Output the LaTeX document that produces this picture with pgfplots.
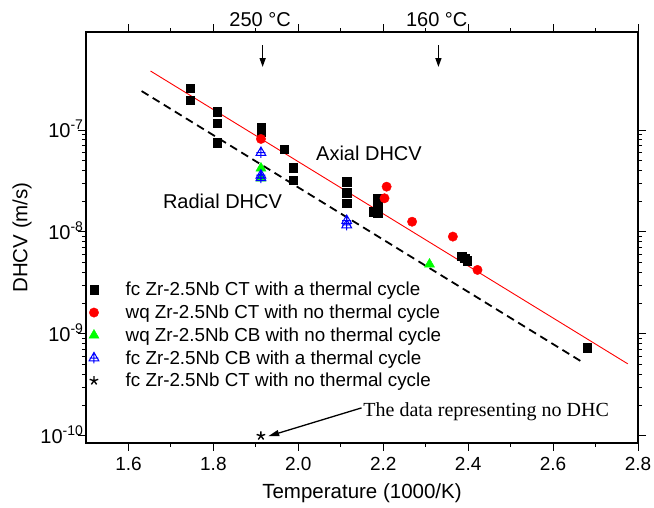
\documentclass[border=0pt]{standalone}
\usepackage{pgfplots}
\pgfplotsset{compat=1.18}
\usepackage{fontspec}
\setmainfont{Liberation Sans}
\newfontfamily\serifann{Liberation Serif}
\usetikzlibrary{arrows.meta}

% open triangle with a cross through it (Origin style)
\pgfdeclareplotmark{tricross}{%
  \pgfpathmoveto{\pgfqpoint{0pt}{\pgfplotmarksize}}%
  \pgfpathlineto{\pgfqpoint{-0.866\pgfplotmarksize}{-0.5\pgfplotmarksize}}%
  \pgfpathlineto{\pgfqpoint{0.866\pgfplotmarksize}{-0.5\pgfplotmarksize}}%
  \pgfpathclose
  \pgfpathmoveto{\pgfqpoint{0pt}{\pgfplotmarksize}}%
  \pgfpathlineto{\pgfqpoint{0pt}{-0.95\pgfplotmarksize}}%
  \pgfpathmoveto{\pgfqpoint{-0.8\pgfplotmarksize}{0pt}}%
  \pgfpathlineto{\pgfqpoint{0.8\pgfplotmarksize}{0pt}}%
  \pgfusepathqstroke}

\begin{document}
\begin{tikzpicture}
\path[use as bounding box] (0,0) rectangle (654pt,508pt);
\begin{axis}[
  at={(86pt,65pt)}, anchor=south west,
  scale only axis, width=552pt, height=411pt,
  xmin=1.5, xmax=2.8,
  ymode=log, ymin=8.5e-11, ymax=9.15e-7,
  xtick={1.6,1.8,2.0,2.2,2.4,2.6,2.8},
  xticklabels={1.6,1.8,2.0,2.2,2.4,2.6,2.8},
  minor x tick num=1,
  ytick={1e-10,1e-9,1e-8,1e-7},
  yticklabels={10\textsuperscript{-10},10\textsuperscript{-9},10\textsuperscript{-8},10\textsuperscript{-7}},
  tick align=outside,
  major tick length=8pt, minor tick length=4pt,
  axis line style={line width=1.2pt},
  every tick/.style={black, line width=1pt},
  tick label style={font=\fontsize{19}{22}\selectfont},
  xticklabel style={yshift=-3pt},
  yticklabel style={font=\fontsize{20}{22}\selectfont, xshift=9pt, yshift=1pt},
  xlabel={Temperature (1000/K)}, ylabel={DHCV (m/s)},
  label style={font=\fontsize{20.5}{24}\selectfont},
  xlabel style={yshift=-6pt},
  ylabel style={yshift=2pt},
  clip=false,
  legend cell align=left,
  legend style={at={(rel axis cs:0.005,0.394)}, anchor=north west, draw=none, fill=none,
    font=\fontsize{18.8}{21}\selectfont, row sep=5.6pt, inner sep=0pt,
    nodes={inner xsep=1pt, inner ysep=1pt}},
  legend image code/.code={\draw[#1] plot coordinates {(0pt,0pt)}; \path (-4pt,0pt) (30pt,0pt);},
]
% fitted lines
\addplot[red, line width=0.9pt, forget plot] coordinates {(1.652,3.79e-7) (2.776,5.08e-10)};
\addplot[black, line width=1.8pt, dash pattern=on 8pt off 5pt, forget plot] coordinates {(1.631,2.41e-7) (2.673,5.16e-10)};
% fc Zr-2.5Nb CT with a thermal cycle
\addplot[only marks, mark=square*, mark size=4.2pt, black] coordinates {
  (1.745,2.56e-7) (1.745,1.97e-7)
  (1.809,1.51e-7) (1.809,1.16e-7) (1.809,7.5e-8)
  (1.912,1.07e-7) (1.912,1.0e-7) (1.912,9.5e-8)
  (1.967,6.47e-8) (1.988,4.26e-8) (1.988,3.23e-8)
  (2.114,3.11e-8) (2.114,2.43e-8) (2.114,1.91e-8)
  (2.187,2.14e-8) (2.187,1.84e-8) (2.187,1.52e-8) (2.178,1.58e-8)
  (2.385,5.8e-9) (2.392,5.5e-9) (2.398,5.2e-9)
  (2.681,7.35e-10)};
\addlegendentry{fc Zr-2.5Nb CT with a thermal cycle}
% wq Zr-2.5Nb CT with no thermal cycle
\addplot[only marks, mark=*, mark size=4.7pt, red] coordinates {
  (1.912,8.17e-8) (2.208,2.78e-8) (2.203,2.14e-8) (2.268,1.26e-8)
  (2.364,9.0e-9) (2.422,4.24e-9)};
\addlegendentry{wq Zr-2.5Nb CT with no thermal cycle}
% wq Zr-2.5Nb CB with no thermal cycle
\addplot[only marks, mark=triangle*, mark size=5.8pt, green] coordinates {
  (1.912,4.22e-8) (1.912,3.36e-8) (2.309,4.82e-9)};
\addlegendentry{wq Zr-2.5Nb CB with no thermal cycle}
% fc Zr-2.5Nb CB with a thermal cycle
\addplot[only marks, mark=tricross, mark size=5.6pt, blue, line width=1pt] coordinates {
  (1.912,6.0e-8) (1.912,3.6e-8) (1.912,3.4e-8) (2.114,1.29e-8) (2.114,1.17e-8)};
\addlegendentry{fc Zr-2.5Nb CB with a thermal cycle}
% fc Zr-2.5Nb CT with no thermal cycle
\addplot[only marks, mark=star, mark size=4.5pt, black, line width=1.4pt] coordinates {(1.912,1e-10)};
\addlegendentry{fc Zr-2.5Nb CT with no thermal cycle}

% annotations
\node[font=\fontsize{20}{24}\selectfont] at (axis cs:2.1665,5.96e-8) {Axial DHCV};
\node[font=\fontsize{20}{24}\selectfont] at (axis cs:1.8215,2.01e-8) {Radial DHCV};
\node[font=\fontsize{20}{24}\selectfont] at (axis cs:1.910,1.22e-6) {250 °C};
\node[font=\fontsize{20}{24}\selectfont] at (axis cs:2.326,1.22e-6) {160 °C};
\draw[-{Triangle[width=6pt,length=9pt]}, line width=1.5pt] (axis cs:1.916,6.8e-7) -- (axis cs:1.916,4.15e-7);
\draw[-{Triangle[width=6pt,length=9pt]}, line width=1.5pt] (axis cs:2.330,6.8e-7) -- (axis cs:2.330,4.15e-7);
\draw[-{Triangle[width=6pt,length=11pt]}, line width=1.3pt] (axis cs:2.149,1.88e-10) -- (axis cs:1.929,0.99e-10);
\node[anchor=west, font=\serifann\fontsize{20}{24}\selectfont, inner sep=0pt] at (axis cs:2.153,1.74e-10) {The data representing no DHC};
\end{axis}
\end{tikzpicture}
\end{document}
